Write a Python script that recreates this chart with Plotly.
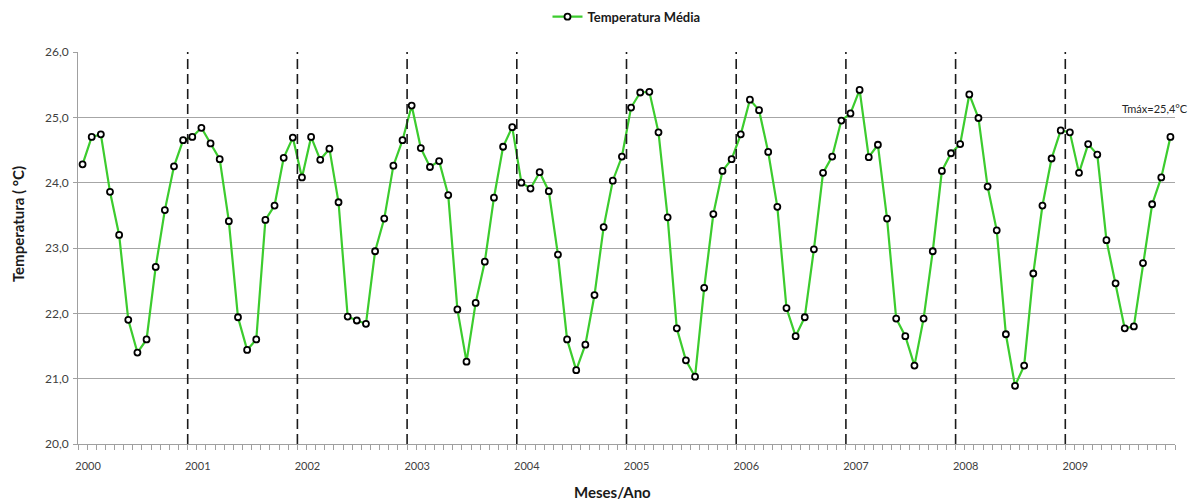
import plotly.graph_objects as go

# monthly mean temperature, Jan 2000 .. Dec 2009
temp_2000 = [24.28, 24.70, 24.74, 23.86, 23.20, 21.90, 21.40, 21.60, 22.71, 23.58, 24.25, 24.65]
temp_2001 = [24.70, 24.84, 24.60, 24.36, 23.41, 21.94, 21.44, 21.60, 23.43, 23.65, 24.38, 24.69]
temp_2002 = [24.08, 24.70, 24.35, 24.52, 23.70, 21.95, 21.89, 21.84, 22.95, 23.45, 24.26, 24.65]
temp_2003 = [25.18, 24.53, 24.24, 24.33, 23.81, 22.06, 21.26, 22.16, 22.79, 23.77, 24.55, 24.85]
temp_2004 = [24.00, 23.91, 24.16, 23.87, 22.90, 21.60, 21.13, 21.52, 22.28, 23.32, 24.03, 24.40]
temp_2005 = [25.15, 25.38, 25.39, 24.77, 23.47, 21.77, 21.28, 21.03, 22.39, 23.52, 24.18, 24.36]
temp_2006 = [24.74, 25.27, 25.11, 24.47, 23.63, 22.08, 21.65, 21.94, 22.98, 24.15, 24.40, 24.95]
temp_2007 = [25.06, 25.42, 24.39, 24.58, 23.45, 21.92, 21.65, 21.20, 21.92, 22.95, 24.18, 24.45]
temp_2008 = [24.59, 25.35, 24.99, 23.94, 23.27, 21.68, 20.89, 21.20, 22.61, 23.65, 24.37, 24.80]
temp_2009 = [24.77, 24.15, 24.59, 24.43, 23.12, 22.46, 21.77, 21.80, 22.77, 23.67, 24.08, 24.70]

years = ["2000", "2001", "2002", "2003", "2004", "2005", "2006", "2007", "2008", "2009"]
y_ticks = [20, 21, 22, 23, 24, 25, 26]

temperatura = (temp_2000 + temp_2001 + temp_2002 + temp_2003 + temp_2004
               + temp_2005 + temp_2006 + temp_2007 + temp_2008 + temp_2009)
meses = list(range(len(temperatura)))

FONT = "Lato"
GREEN = "#3ccc2e"
TITLE_FONT = {"family": FONT, "size": 15, "color": "#1a1a1a", "weight": "bold"}

fig = go.Figure()
fig.add_trace(go.Scatter(
    x=meses, y=temperatura, mode="lines+markers", name="Temperatura Média",
    line={"color": GREEN, "width": 2.2},
    marker={"size": 6, "color": "white", "line": {"color": "black", "width": 1.8}},
))

# dashed separators between December and January
for k in range(1, len(years)):
    fig.add_shape(type="line", x0=12 * k - 0.5, x1=12 * k - 0.5, y0=20, y1=26.07,
                  xref="x", yref="y", line={"color": "#1a1a1a", "width": 1.6, "dash": "10px,5px"})

fig.add_annotation(text="Tmáx=25,4°C", xref="paper", yref="y", x=1.014, y=25.14,
                   xanchor="right", yanchor="middle", showarrow=False,
                   font={"family": FONT, "size": 11, "color": "#262626"})

# axis titles (placed like the original, not centred on the axes)
fig.add_annotation(text="Temperatura ( °C)", xref="paper", yref="paper", x=0, y=0.561,
                   xanchor="center", yanchor="middle", xshift=-60, textangle=-90,
                   showarrow=False, font=TITLE_FONT)
fig.add_annotation(text="Meses/Ano", xref="paper", yref="paper", x=0.487, y=-0.122,
                   xanchor="center", yanchor="middle", showarrow=False, font=TITLE_FONT)

# the page body has an 8px margin, so the figure is 8px smaller than the window
fig.update_layout(
    width=1193, height=495,
    margin={"l": 70, "r": 26, "t": 44, "b": 59, "autoexpand": False},
    plot_bgcolor="white", paper_bgcolor="white",
    separators=",.",
    font={"family": FONT, "size": 12, "color": "#404040"},
    showlegend=True,
    legend={"orientation": "h", "x": 0.5, "xanchor": "center", "y": 1.09, "yanchor": "middle",
            "font": {"family": FONT, "size": 13, "color": "#1a1a1a", "weight": "bold"}},
    xaxis={
        "range": [-0.5, len(meses) - 0.5],
        "automargin": False,
        "tickmode": "array",
        "tickvals": [12 * i + 0.6 for i in range(len(years))],
        "ticktext": years,
        "ticks": "", "showgrid": False, "zeroline": False,
        "showline": True, "linecolor": "#a0a0a0", "linewidth": 1,
        "ticklabelstandoff": 12,
        "tickfont": {"size": 11, "color": "#404040"},
        "minor": {"tickmode": "linear", "tick0": -0.5, "dtick": 1,
                  "ticks": "outside", "ticklen": 5, "tickcolor": "#a0a0a0", "showgrid": False},
    },
    yaxis={
        "range": [20, 26],
        "automargin": False,
        "tickmode": "array", "tickvals": y_ticks, "tickformat": ".1f",
        "showgrid": True, "gridcolor": "#a6a6a6", "gridwidth": 1, "zeroline": False,
        "showline": True, "linecolor": "#a0a0a0", "linewidth": 1,
        "ticks": "outside", "ticklen": 4, "tickcolor": "#a0a0a0",
        "ticklabelstandoff": 2,
        "tickfont": {"size": 12, "color": "#404040"},
    },
)

fig.write_html("out.html")
